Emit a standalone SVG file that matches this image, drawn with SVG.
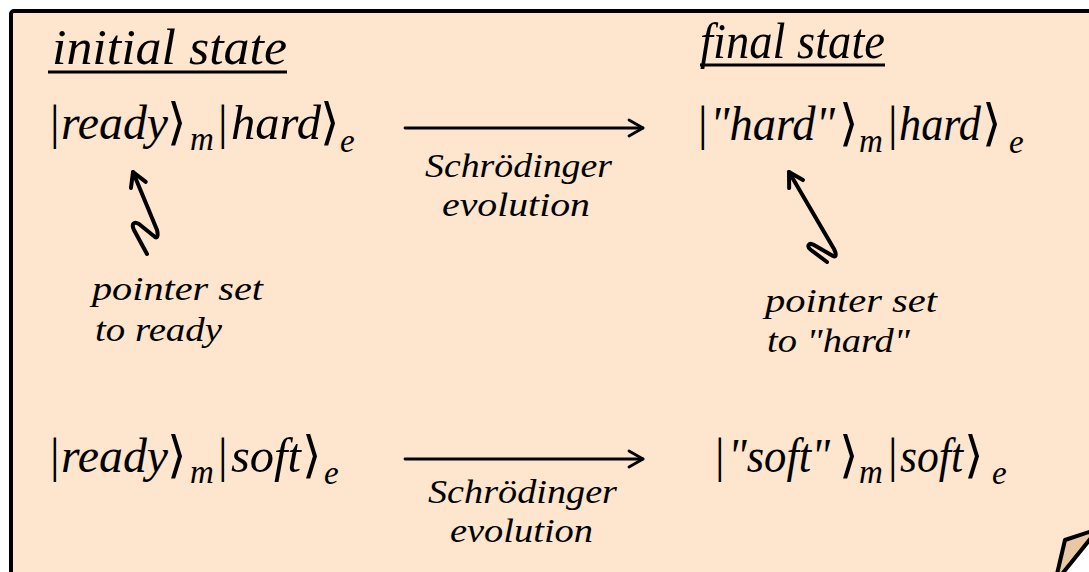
<svg xmlns="http://www.w3.org/2000/svg" width="1089" height="572" viewBox="0 0 1089 572">
<defs>
<style>
.conn{fill:none;stroke:#000;stroke-linecap:round;stroke-linejoin:round}
</style>
<marker id="ah" markerUnits="userSpaceOnUse" viewBox="0 0 18 20" refX="16" refY="10" markerWidth="18" markerHeight="20" orient="auto">
<path d="M2,2 L16,10 L2,18" fill="none" stroke="#000" stroke-width="2.8" stroke-linecap="round" stroke-linejoin="round"/>
</marker>
<marker id="ah2" markerUnits="userSpaceOnUse" viewBox="0 0 20 22" refX="17" refY="11" markerWidth="20" markerHeight="22" orient="auto">
<path d="M3,3 L17,11 L3,19" fill="none" stroke="#000" stroke-width="4" stroke-linecap="round" stroke-linejoin="round"/>
</marker>
</defs>
<rect width="1089" height="572" fill="#fff"/>
<g id="page">
<rect x="11" y="11" width="1120" height="620" rx="3" fill="#fee5cd" stroke="#000" stroke-width="4"/>
<polygon points="1089,537 1089,572 1060,572" fill="#fff"/>
<polygon points="1057,574 1065,540 1095,530 1095,533 1062,574" fill="#e8c8a5" stroke="#000" stroke-width="4" stroke-linejoin="round"/>
</g>
<g font-family="Liberation Serif, serif" font-style="italic" fill="#000">
<g id="title-initial">
<text x="52" y="64" font-size="50" textLength="235" lengthAdjust="spacingAndGlyphs">initial state</text>
<line x1="48" y1="72" x2="287" y2="72" stroke="#000" stroke-width="3"/>
</g>
<g id="title-final">
<text x="700" y="58" font-size="50" textLength="185" lengthAdjust="spacingAndGlyphs">final state</text>
<line x1="700" y1="65" x2="885" y2="65" stroke="#000" stroke-width="3"/>
</g>
<g id="state-ready-hard">
<text font-size="48" y="139"><tspan font-style="normal" x="50">|</tspan><tspan x="61" textLength="107" lengthAdjust="spacingAndGlyphs">ready</tspan><tspan font-family="Noto Sans CJK JP, Noto Sans, sans-serif" font-style="normal" font-size="50" x="167">⟩</tspan><tspan font-size="33" x="190" y="150">m</tspan><tspan font-style="normal" x="218" y="139">|</tspan><tspan x="231" textLength="90" lengthAdjust="spacingAndGlyphs">hard</tspan><tspan font-family="Noto Sans CJK JP, Noto Sans, sans-serif" font-style="normal" font-size="50" x="320">⟩</tspan><tspan font-size="33" x="340" y="152">e</tspan></text>
</g>
<g id="state-hardptr-hard">
<text font-size="48" y="140"><tspan font-style="normal" x="698">|</tspan><tspan x="710" textLength="125" lengthAdjust="spacingAndGlyphs">"hard"</tspan><tspan font-family="Noto Sans CJK JP, Noto Sans, sans-serif" font-style="normal" font-size="50" x="839">⟩</tspan><tspan font-size="33" x="859" y="152">m</tspan><tspan font-style="normal" x="888" y="140">|</tspan><tspan x="899" textLength="82" lengthAdjust="spacingAndGlyphs">hard</tspan><tspan font-family="Noto Sans CJK JP, Noto Sans, sans-serif" font-style="normal" font-size="50" x="982">⟩</tspan><tspan font-size="33" x="1009" y="153">e</tspan></text>
</g>
<g id="state-ready-soft">
<text font-size="48" y="472"><tspan font-style="normal" x="50">|</tspan><tspan x="61" textLength="107" lengthAdjust="spacingAndGlyphs">ready</tspan><tspan font-family="Noto Sans CJK JP, Noto Sans, sans-serif" font-style="normal" font-size="50" x="167">⟩</tspan><tspan font-size="33" x="190" y="483">m</tspan><tspan font-style="normal" x="218" y="472">|</tspan><tspan x="231" textLength="70" lengthAdjust="spacingAndGlyphs">soft</tspan><tspan font-family="Noto Sans CJK JP, Noto Sans, sans-serif" font-style="normal" font-size="50" x="302">⟩</tspan><tspan font-size="33" x="324" y="484">e</tspan></text>
</g>
<g id="state-softptr-soft">
<text font-size="48" y="472"><tspan font-style="normal" x="715">|</tspan><tspan x="728" textLength="102" lengthAdjust="spacingAndGlyphs">"soft"</tspan><tspan font-family="Noto Sans CJK JP, Noto Sans, sans-serif" font-style="normal" font-size="50" x="839">⟩</tspan><tspan font-size="33" x="859" y="483">m</tspan><tspan font-style="normal" x="888" y="472">|</tspan><tspan x="900" textLength="63" lengthAdjust="spacingAndGlyphs">soft</tspan><tspan font-family="Noto Sans CJK JP, Noto Sans, sans-serif" font-style="normal" font-size="50" x="964">⟩</tspan><tspan font-size="33" x="992" y="484">e</tspan></text>
</g>
<g id="label-ptr-ready" font-size="34">
<text x="92" y="300" textLength="171" lengthAdjust="spacingAndGlyphs">pointer set</text>
<text x="95" y="341" textLength="127" lengthAdjust="spacingAndGlyphs">to ready</text>
</g>
<g id="label-ptr-hard" font-size="34">
<text x="765" y="312" textLength="172" lengthAdjust="spacingAndGlyphs">pointer set</text>
<text x="767" y="352" textLength="143" lengthAdjust="spacingAndGlyphs">to "hard"</text>
</g>
<g id="label-evo-1" font-size="34">
<text x="425" y="177" textLength="187" lengthAdjust="spacingAndGlyphs">Schrödinger</text>
<text x="442" y="216" textLength="148" lengthAdjust="spacingAndGlyphs">evolution</text>
</g>
<g id="label-evo-2" font-size="34">
<text x="428" y="503" textLength="189" lengthAdjust="spacingAndGlyphs">Schrödinger</text>
<text x="450" y="542" textLength="143" lengthAdjust="spacingAndGlyphs">evolution</text>
</g>
</g>
<g id="connectors">
<line class="conn" x1="405" y1="128" x2="643" y2="128" stroke-width="2.8" marker-end="url(#ah)"/>
<line class="conn" x1="405" y1="459" x2="643" y2="459" stroke-width="2.8" marker-end="url(#ah)"/>
<path class="conn" d="M147,254 L134,230 C131,224 134,221 139,224 L155,237 C158,239 158,234 157,230 L133,172" stroke-width="4" marker-end="url(#ah2)"/>
<path class="conn" d="M827,262 L811,250 C806,246 809,242 814,245 L833,256 C837,258 836,253 834,249 L789,172" stroke-width="4" marker-end="url(#ah2)"/>
</g>
</svg>
